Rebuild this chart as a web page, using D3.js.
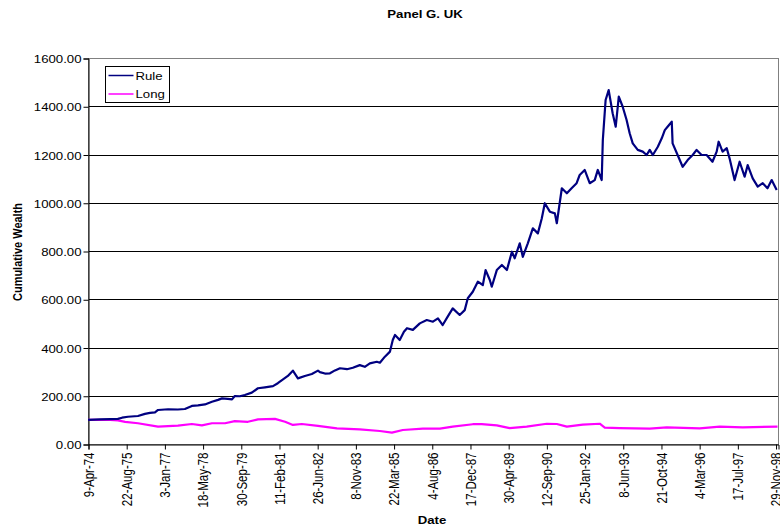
<!DOCTYPE html>
<html>
<head>
<meta charset="utf-8">
<script src="https://cdn.jsdelivr.net/npm/d3@7"></script>
<style>
  body { margin: 0; background: #fff; }
  text { font-family: "Liberation Sans", Arial, sans-serif; fill: #000; }
</style>
</head>
<body>
<script>
// x tick labels, every 500 days as on the original axis
const dateLabels = ['9-Apr-74', '22-Aug-75', '3-Jan-77', '18-May-78', '30-Sep-79', '11-Feb-81',
  '26-Jun-82', '8-Nov-83', '22-Mar-85', '4-Aug-86', '17-Dec-87', '30-Apr-89', '12-Sep-90',
  '25-Jan-92', '8-Jun-93', '21-Oct-94', '4-Mar-96', '17-Jul-97', '29-Nov-98'];
const yTicks = [0, 200, 400, 600, 800, 1000, 1200, 1400, 1600];
const seriesNames = ['Rule', 'Long'];
const seriesColors = ['#000080', '#ff00ff'];

// [decimal year, cumulative wealth]
const rule = [
  [1974.27, 100], [1974.70, 102], [1975.06, 103], [1975.34, 104], [1975.49, 109], [1975.70, 113],
  [1976.06, 116], [1976.31, 125], [1976.49, 129], [1976.67, 131], [1976.78, 141], [1977.14, 144],
  [1977.49, 143], [1977.74, 145], [1977.99, 158], [1978.21, 160], [1978.46, 164], [1978.71, 175],
  [1978.93, 183], [1979.07, 189], [1979.28, 187], [1979.43, 185], [1979.53, 199], [1979.71, 198],
  [1979.89, 203], [1980.14, 213], [1980.36, 231], [1980.61, 235], [1980.90, 240], [1981.07, 252],
  [1981.22, 265], [1981.43, 282], [1981.61, 304], [1981.79, 272], [1982.04, 282], [1982.29, 290],
  [1982.51, 304], [1982.58, 298], [1982.76, 292], [1982.94, 293], [1983.12, 305], [1983.30, 314],
  [1983.55, 310], [1983.76, 316], [1984.01, 327], [1984.19, 320], [1984.37, 334], [1984.62, 341],
  [1984.73, 337], [1984.91, 362], [1985.09, 383], [1985.19, 431], [1985.27, 452], [1985.44, 431],
  [1985.59, 465], [1985.70, 480], [1985.91, 473], [1986.16, 500], [1986.41, 514], [1986.63, 507],
  [1986.81, 521], [1986.98, 493], [1987.16, 528], [1987.34, 562], [1987.59, 535], [1987.77, 555],
  [1987.88, 604], [1988.06, 631], [1988.24, 673], [1988.42, 659], [1988.52, 721], [1988.67, 680],
  [1988.74, 652], [1988.92, 721], [1989.10, 742], [1989.28, 721], [1989.46, 797], [1989.56, 770],
  [1989.74, 832], [1989.85, 776], [1990.03, 832], [1990.21, 894], [1990.39, 873], [1990.53, 935],
  [1990.64, 998], [1990.82, 963], [1991.00, 956], [1991.07, 915], [1991.25, 1060], [1991.43, 1039],
  [1991.60, 1060], [1991.78, 1081], [1991.89, 1115], [1992.07, 1136], [1992.25, 1081], [1992.43, 1094],
  [1992.54, 1136], [1992.68, 1094], [1992.72, 1260], [1992.82, 1426], [1992.93, 1467], [1993.07, 1371],
  [1993.18, 1315], [1993.29, 1440], [1993.43, 1398], [1993.57, 1343], [1993.68, 1288], [1993.79, 1246],
  [1993.97, 1219], [1994.15, 1212], [1994.29, 1198], [1994.40, 1219], [1994.51, 1198], [1994.69, 1232],
  [1994.83, 1267], [1994.94, 1301], [1995.04, 1315], [1995.19, 1336], [1995.22, 1246], [1995.40, 1198],
  [1995.58, 1149], [1995.76, 1177], [1995.94, 1198], [1996.08, 1219], [1996.26, 1198], [1996.44, 1198],
  [1996.65, 1170], [1996.80, 1212], [1996.87, 1253], [1997.01, 1212], [1997.16, 1226], [1997.26, 1184],
  [1997.44, 1094], [1997.62, 1170], [1997.80, 1108], [1997.91, 1156], [1998.09, 1101], [1998.27, 1067],
  [1998.45, 1081], [1998.62, 1060], [1998.77, 1094], [1998.95, 1053]
];

const long = [
  [1974.27, 100], [1975.06, 100], [1975.34, 98], [1975.60, 92], [1976.06, 86], [1976.78, 72],
  [1977.49, 76], [1977.99, 83], [1978.35, 77], [1978.71, 86], [1979.18, 86], [1979.53, 95],
  [1980.00, 92], [1980.36, 102], [1980.97, 104], [1981.33, 92], [1981.61, 79], [1981.93, 83],
  [1982.51, 75], [1983.19, 65], [1984.01, 61], [1984.73, 54], [1985.16, 47], [1985.55, 58],
  [1986.27, 64], [1986.88, 64], [1987.34, 72], [1988.06, 82], [1988.38, 82], [1988.92, 77],
  [1989.38, 66], [1989.99, 72], [1990.71, 84], [1991.07, 83], [1991.43, 72], [1992.00, 80],
  [1992.61, 84], [1992.79, 68], [1993.32, 66], [1994.40, 64], [1995.01, 69], [1996.19, 65],
  [1996.91, 72], [1997.73, 69], [1998.98, 72]
];

const width = 780, height = 531;
const plot = {left: 88, right: 778, top: 58, bottom: 444};
const SX = 1.2; // the original chart was stretched sideways

const parseDate = d3.timeParse('%d-%b-%y');
function fromYear(v) {
  const yr = Math.floor(v);
  const start = new Date(yr, 0, 1);
  return new Date(start.getTime() + (v - yr) * 365.25 * 864e5);
}

const x = d3.scaleTime()
  .domain([parseDate('9-Apr-74'), new Date(1998, 11, 31)])
  .range([plot.left, plot.right]);
const y = d3.scaleLinear().domain([0, 1600]).range([plot.bottom, plot.top]);

const svg = d3.select('body').append('svg')
  .attr('width', width)
  .attr('height', height);

function label(g, tx, ty, str, extra) {
  return g.append('text')
    .attr('transform', `translate(${tx},${ty}) scale(${SX},1)` + (extra || ''))
    .text(str);
}

// gridlines
svg.append('g')
  .selectAll('line')
  .data(yTicks)
  .join('line')
  .attr('x1', plot.left).attr('x2', plot.right)
  .attr('y1', d => Math.round(y(d)) + 0.5).attr('y2', d => Math.round(y(d)) + 0.5)
  .attr('stroke', '#000')
  .attr('stroke-width', 1);

// plot border
svg.append('rect')
  .attr('x', plot.left + 0.5).attr('y', plot.top + 0.5)
  .attr('width', plot.right - plot.left).attr('height', plot.bottom - plot.top)
  .attr('fill', 'none')
  .attr('stroke', '#808080');

// y axis
const yAxis = d3.axisLeft(y).tickValues(yTicks).tickSize(5).tickFormat(d3.format('.2f'));
const gy = svg.append('g').attr('transform', `translate(${plot.left + 0.5},0.5)`).call(yAxis);
gy.select('.domain').attr('stroke', '#000');
gy.selectAll('.tick line').attr('stroke', '#000');
gy.selectAll('.tick text').remove();
gy.selectAll('.tick').each(function(d) {
  label(d3.select(this), -7, 4, d3.format('.2f')(d))
    .attr('text-anchor', 'end')
    .attr('font-size', 11);
});

// x axis
const tickDates = dateLabels.map(parseDate);
const xAxis = d3.axisBottom(x).tickValues(tickDates).tickSize(5).tickFormat('');
const gx = svg.append('g').attr('transform', `translate(0.5,${plot.bottom + 0.5})`).call(xAxis);
gx.select('.domain').attr('stroke', '#000');
gx.selectAll('.tick line').attr('stroke', '#000');
gx.selectAll('.tick').each(function(d, i) {
  label(d3.select(this), 0, 8, dateLabels[i], ' rotate(-90)')
    .attr('text-anchor', 'end')
    .attr('dy', '0.35em')
    .attr('font-size', 11.5);
});

// series
const line = d3.line()
  .x(d => x(fromYear(d[0])))
  .y(d => y(d[1]));

svg.append('path')
  .datum(long)
  .attr('fill', 'none')
  .attr('stroke', seriesColors[1])
  .attr('stroke-width', 2.2)
  .attr('stroke-linejoin', 'round')
  .attr('d', line);

svg.append('path')
  .datum(rule)
  .attr('fill', 'none')
  .attr('stroke', seriesColors[0])
  .attr('stroke-width', 2.2)
  .attr('stroke-linejoin', 'round')
  .attr('d', line);

// titles
label(svg, 425, 18, 'Panel G. UK')
  .attr('text-anchor', 'middle').attr('font-size', 11).attr('font-weight', 'bold');
label(svg, 432, 524, 'Date')
  .attr('text-anchor', 'middle').attr('font-size', 11).attr('font-weight', 'bold');
label(svg, 22, 252, 'Cumulative Wealth', ' rotate(-90)')
  .attr('text-anchor', 'middle').attr('font-size', 11).attr('font-weight', 'bold');

// legend
const legend = svg.append('g').attr('transform', 'translate(105.5,66.5)');
legend.append('rect')
  .attr('width', 64).attr('height', 36)
  .attr('fill', '#fff').attr('stroke', '#000');
seriesNames.forEach((name, i) => {
  const ly = 9 + i * 18.5;
  legend.append('line')
    .attr('x1', 3).attr('x2', 28)
    .attr('y1', ly).attr('y2', ly)
    .attr('stroke', seriesColors[i]).attr('stroke-width', 1.5);
  label(legend, 30, ly + 4, name).attr('font-size', 11);
});
</script>
</body>
</html>
